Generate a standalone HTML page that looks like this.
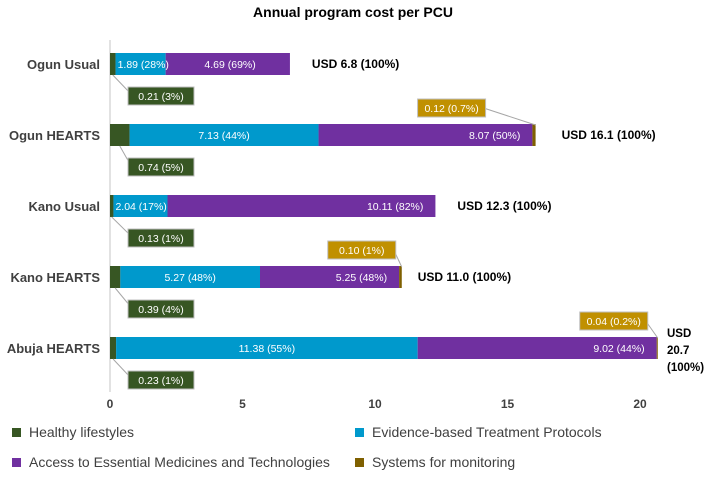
<!DOCTYPE html>
<html><head><meta charset="utf-8"><style>
body{margin:0;background:#fff;font-family:"Liberation Sans",sans-serif;}
svg text{font-family:"Liberation Sans",sans-serif;}
</style></head><body>
<svg id="c" width="706" height="476" xmlns="http://www.w3.org/2000/svg">
<text x="353" y="17" text-anchor="middle" font-size="14" font-weight="bold" fill="#000">Annual program cost per PCU</text>
<g id="plot"></g>
</svg>
<script>
const categories=["Ogun Usual","Ogun HEARTS","Kano Usual","Kano HEARTS","Abuja HEARTS"];
const healthy=[0.21,0.74,0.13,0.39,0.23];
const treatment=[1.89,7.13,2.04,5.27,11.38];
const medicines=[4.69,8.07,10.11,5.25,9.02];
const monitoring=[0,0.12,0,0.10,0.04];
const healthyPct=["3%","5%","1%","4%","1%"];
const treatmentPct=["28%","44%","17%","48%","55%"];
const medicinesPct=["69%","50%","82%","48%","44%"];
const monitoringPct=["","0.7%","","1%","0.2%"];
const totals=["6.8","16.1","12.3","11.0","20.7"];
const ticks=[0,5,10,15,20];
const NS="http://www.w3.org/2000/svg";
const g=document.getElementById('plot');
const x0=110,scale=26.5;
const X=v=>x0+v*scale;
const Y=i=>64+i*71;
const bh=22;
function el(t,a,txt){const e=document.createElementNS(NS,t);for(const k in a)e.setAttribute(k,a[k]);if(txt!==undefined)e.textContent=txt;g.appendChild(e);return e;}
const ax=el('line',{x1:x0,y1:40,x2:x0,y2:392,stroke:'#d9d9d9','stroke-width':1.5});


ticks.forEach(t=>{const e=el('text',{x:X(t),y:408,'text-anchor':'middle','font-size':12,'font-weight':'bold',fill:'#404040'},String(t));

});
categories.forEach((c,i)=>{
 const y=Y(i)-bh/2;
 const lab=el('text',{x:100,y:Y(i)+5,'text-anchor':'end','font-size':13,'font-weight':'bold',fill:'#404040'},c);
 
 
 let s=0;
 const segs=[[healthy[i],'#375623'],[treatment[i],'#0099CC'],[medicines[i],'#7030A0'],[monitoring[i],'#7F6000']];
 const starts=[];
 segs.forEach(([v,col],k)=>{starts.push(s);
  const r=el('rect',{x:X(s),y:y,width:v*scale,height:bh,fill:col});
  
  
  s+=v;});
 const tl=el('text',{x:X(starts[1]+treatment[i]/2),y:Y(i)+4,'text-anchor':'middle','font-size':10.5,fill:'#fff'},treatment[i].toFixed(2)+' ('+treatmentPct[i]+')');
 if(treatment[i]<3){tl.setAttribute('x',X(starts[1])+2);tl.setAttribute('text-anchor','start');}
 
 
 const ml=el('text',{x:X(starts[2]+medicines[i])-12,y:Y(i)+4,'text-anchor':'end','font-size':10.5,fill:'#fff'},medicines[i].toFixed(2)+' ('+medicinesPct[i]+')');
 if(i==0)ml.setAttribute('x',X(starts[2]+medicines[i]/2)+28);
 
 
 const by=Y(i)+23;
 el('line',{x1:X(healthy[i]/2),y1:Y(i)+11,x2:130,y2:by+6,stroke:'#a6a6a6','stroke-width':1});
 const hb=el('rect',{x:128,y:by,width:66,height:18,fill:'#375623',stroke:'#bfbfbf','stroke-width':1});
 
 
 el('text',{x:161,y:by+13,'text-anchor':'middle','font-size':10.5,fill:'#fff'},healthy[i].toFixed(2)+' ('+healthyPct[i]+')');
 if(monitoring[i]>0){
  const end=X(s);const bx=end-(i==4?78:i==1?118:74), byy=Y(i)-36;
  el('line',{x1:bx+66,y1:byy+9,x2:end,y2:Y(i)-10,stroke:'#a6a6a6','stroke-width':1});
  const mb=el('rect',{x:bx,y:byy,width:68,height:18,fill:'#C09000',stroke:'#bfbfbf','stroke-width':1});
  
  
  el('text',{x:bx+34,y:byy+13,'text-anchor':'middle','font-size':10.5,fill:'#fff'},monitoring[i].toFixed(2)+' ('+monitoringPct[i]+')');
 }
 if(i==4){
  ['USD',totals[i],'(100%)'].forEach((t,k)=>{const e=el('text',{x:667,y:Y(i)-11+k*17,'font-size':11.5,'font-weight':'bold',fill:'#000'},t);
  
  });
 } else {
  const e=el('text',{x:X(s)+(i==1?26:i==3?16:22),y:Y(i)+4,'font-size':12,'font-weight':'bold',fill:'#000'},'USD '+totals[i]+' (100%)');
  
  
 }
});
const legend=[["Healthy lifestyles",'#375623',12,437],["Evidence-based Treatment Protocols",'#0099CC',355,437],["Access to Essential Medicines and Technologies",'#7030A0',12,467],["Systems for monitoring",'#7F6000',355,467]];
legend.forEach(([t,c,lx,ly])=>{
 const r=el('rect',{x:lx,y:ly-9,width:9,height:9,fill:c});
 
 
 const e=el('text',{x:lx+17,y:ly,'font-size':14,fill:'#404040'},t);
 
 
});
</script>
</body></html>
